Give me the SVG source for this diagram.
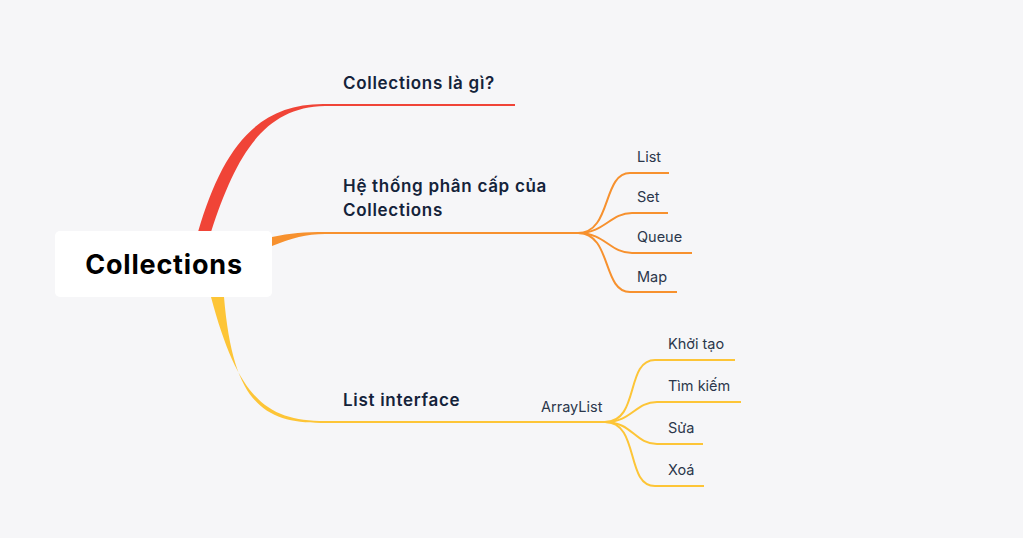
<svg xmlns="http://www.w3.org/2000/svg" width="1023" height="538" viewBox="0 0 1023 538">
<style>
.h{font-family:Inter,"Noto Sans",sans-serif;font-weight:600;font-size:17px;letter-spacing:0.7px;fill:#14233a}
.l{font-family:Inter,"Noto Sans",sans-serif;font-weight:400;font-size:14.5px;fill:#2b374b}
.r{fill:none;stroke:#f04437;stroke-width:2}
.o{fill:none;stroke:#f7912e;stroke-width:2}
.y{fill:none;stroke:#fdc537;stroke-width:2}
</style>
<rect width="1023" height="538" fill="#f6f6f8"/>
<g id="connectors">
<path d="M198 232 C222 150 256 103 325 104 L325 106 C264 107 236 155 211 232 Z" fill="#f04437"/>
<path class="r" d="M324 105 L515 105"/>
<path d="M272 237 C290 233 305 232 325 232 L325 234 C306 234 292 238 272 246 Z" fill="#f7912e"/>
<path class="o" d="M324 233 L580 233"/>
<path class="o" d="M578 233 C612 233 602 173 630 173 L669 173"/>
<path class="o" d="M578 233 C605 233 610 213 632 213 L668 213"/>
<path class="o" d="M578 233 C605 233 610 253 632 253 L692 253"/>
<path class="o" d="M578 233 C612 233 602 292 630 292 L677 292"/>
<path d="M211 297 C238 398 266 421 325 421 L325 423 C264 424 233 404 224 297 Z" fill="#fdc537"/>
<path class="y" d="M324 422 L607 422"/>
<path class="y" d="M605 422 C640 422 625 360 655 360 L735 360"/>
<path class="y" d="M605 422 C632 422 635 402 657 402 L741 402"/>
<path class="y" d="M605 422 C632 422 635 444 657 444 L703 444"/>
<path class="y" d="M605 422 C640 422 625 486 655 486 L704 486"/>
</g>
<g id="root">
<rect x="55" y="231" width="217" height="66" rx="5" fill="#ffffff"/>
<text x="164" y="274" text-anchor="middle" font-family="Inter,'Noto Sans',sans-serif" font-weight="700" font-size="27" letter-spacing="0.8" fill="#000000">Collections</text>
</g>
<g id="n1"><text class="h" x="343" y="89">Collections là gì?</text></g>
<g id="n2"><text class="h" x="343" y="192">Hệ thống phân cấp của</text><text class="h" x="343" y="216">Collections</text></g>
<g id="n3"><text class="h" x="343" y="406">List interface</text></g>
<g id="n2a"><text class="l" x="637" y="162">List</text></g>
<g id="n2b"><text class="l" x="637" y="202">Set</text></g>
<g id="n2c"><text class="l" x="637" y="242">Queue</text></g>
<g id="n2d"><text class="l" x="637" y="282">Map</text></g>
<g id="n3a"><text class="l" x="541" y="412">ArrayList</text></g>
<g id="n3b"><text class="l" x="668" y="349">Khởi tạo</text></g>
<g id="n3c"><text class="l" x="668" y="391">Tìm kiếm</text></g>
<g id="n3d"><text class="l" x="668" y="433">Sửa</text></g>
<g id="n3e"><text class="l" x="668" y="475">Xoá</text></g>
</svg>
